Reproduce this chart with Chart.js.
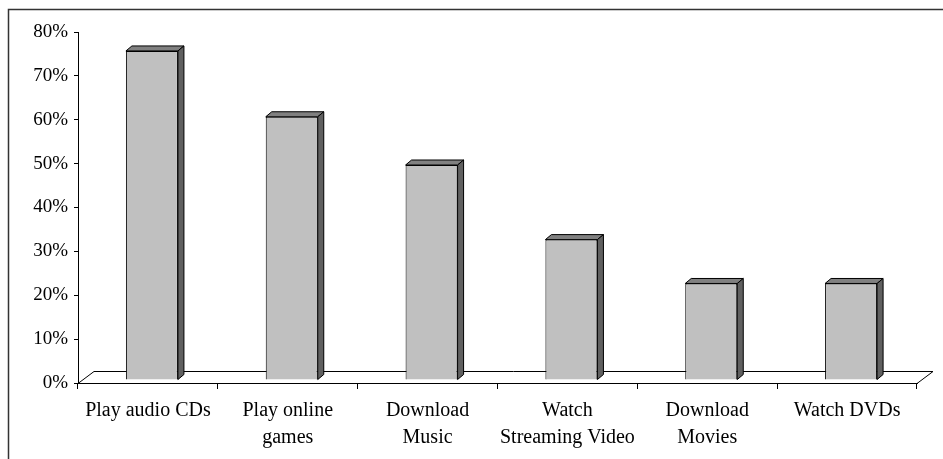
<!DOCTYPE html>
<html>
<head>
<meta charset="utf-8">
<script src="https://cdn.jsdelivr.net/npm/chart.js@4"></script>
<style>
  html, body { margin: 0; padding: 0; background: #fff; }
  #wrap { position: relative; width: 943px; height: 459px; }
</style>
</head>
<body>
<div id="wrap"><canvas id="usageChart"></canvas></div>
<script>
const categories = [
  ["Play audio CDs"],
  ["Play online", "games"],
  ["Download", "Music"],
  ["Watch", "Streaming Video"],
  ["Download", "Movies"],
  ["Watch DVDs"],
];
const shares = [75, 60, 49, 32, 22, 22];
const yMin = 0;
const yMax = 80;
const yStep = 10;

// fake 3D: floor depth and bar depth
const FLOOR_DX = 16, FLOOR_DY = -12;
const BAR_SHIFT_X = 4, BAR_SHIFT_Y = -3;
const BAR_DX = 6, BAR_DY = -5;

const frame3d = {
  id: "frame3d",
  beforeDraw(chart) {
    const ctx = chart.ctx;
    ctx.save();
    ctx.strokeStyle = "#333";
    ctx.lineWidth = 1.5;
    ctx.beginPath();
    ctx.moveTo(8.5, 459);
    ctx.lineTo(8.5, 9.5);
    ctx.lineTo(943, 9.5);
    ctx.stroke();
    ctx.restore();
  },
  beforeDatasetsDraw(chart) {
    const ctx = chart.ctx;
    const a = chart.chartArea;
    const b = Math.round(a.bottom) + 0.5;
    ctx.save();
    ctx.strokeStyle = "#000";
    ctx.lineWidth = 1;
    ctx.beginPath();
    ctx.moveTo(a.left, b);
    ctx.lineTo(a.left + FLOOR_DX, b + FLOOR_DY);
    ctx.lineTo(a.right + FLOOR_DX, b + FLOOR_DY);
    ctx.lineTo(a.right, b);
    ctx.stroke();
    ctx.restore();
    ctx.save();
    ctx.translate(BAR_SHIFT_X, BAR_SHIFT_Y);
  },
  afterDatasetsDraw(chart) {
    const ctx = chart.ctx;
    const meta = chart.getDatasetMeta(0);
    ctx.strokeStyle = "#000";
    ctx.lineWidth = 1;
    meta.data.forEach(function (bar) {
      const l = bar.x - bar.width / 2;
      const r = bar.x + bar.width / 2;
      const t = bar.y;
      const btm = bar.base;
      // top face
      ctx.beginPath();
      ctx.moveTo(l, t);
      ctx.lineTo(l + BAR_DX, t + BAR_DY);
      ctx.lineTo(r + BAR_DX, t + BAR_DY);
      ctx.lineTo(r, t);
      ctx.closePath();
      ctx.fillStyle = "#808080";
      ctx.fill();
      ctx.stroke();
      // side face
      ctx.beginPath();
      ctx.moveTo(r, t);
      ctx.lineTo(r + BAR_DX, t + BAR_DY);
      ctx.lineTo(r + BAR_DX, btm + BAR_DY);
      ctx.lineTo(r, btm);
      ctx.closePath();
      ctx.fillStyle = "#606060";
      ctx.fill();
      ctx.stroke();
    });
    ctx.restore();
  },
};

function initializeChart() {
  const ctx = document.getElementById("usageChart").getContext("2d");
  new Chart(ctx, {
    type: "bar",
    data: {
      labels: categories,
      datasets: [
        {
          data: shares,
          backgroundColor: "#c0c0c0",
          borderColor: "#000",
          borderWidth: 1,
          barPercentage: 0.372,
          categoryPercentage: 1,
        },
      ],
    },
    options: {
      responsive: true,
      maintainAspectRatio: false,
      animation: false,
      devicePixelRatio: 1,
      layout: { padding: { top: 32, right: 26, left: 0, bottom: 0 } },
      scales: {
        x: {
          offset: true,
          grid: {
            offset: true,
            drawOnChartArea: false,
            drawTicks: true,
            tickLength: 6,
            color: "#000",
          },
          border: { color: "#000", width: 1 },
          ticks: {
            color: "#000",
            padding: 8,
            maxRotation: 0,
            autoSkip: false,
            font: { family: "Liberation Serif", size: 20, lineHeight: 1.35 },
          },
          afterFit: function (scale) {
            scale.height = 76;
          },
        },
        y: {
          min: yMin,
          max: yMax,
          grid: {
            drawOnChartArea: false,
            drawTicks: true,
            tickLength: 4,
            color: "#000",
          },
          border: { color: "#000", width: 1 },
          ticks: {
            stepSize: yStep,
            color: "#000",
            padding: 6,
            font: { family: "Liberation Serif", size: 19 },
            callback: function (value) {
              return value + "%";
            },
          },
          afterFit: function (scale) {
            scale.width = 78;
          },
        },
      },
      plugins: {
        legend: { display: false },
        tooltip: { enabled: false },
      },
    },
    plugins: [frame3d],
  });
}

if (document.readyState === "loading") {
  document.addEventListener("DOMContentLoaded", initializeChart);
} else {
  initializeChart();
}
</script>
</body>
</html>
